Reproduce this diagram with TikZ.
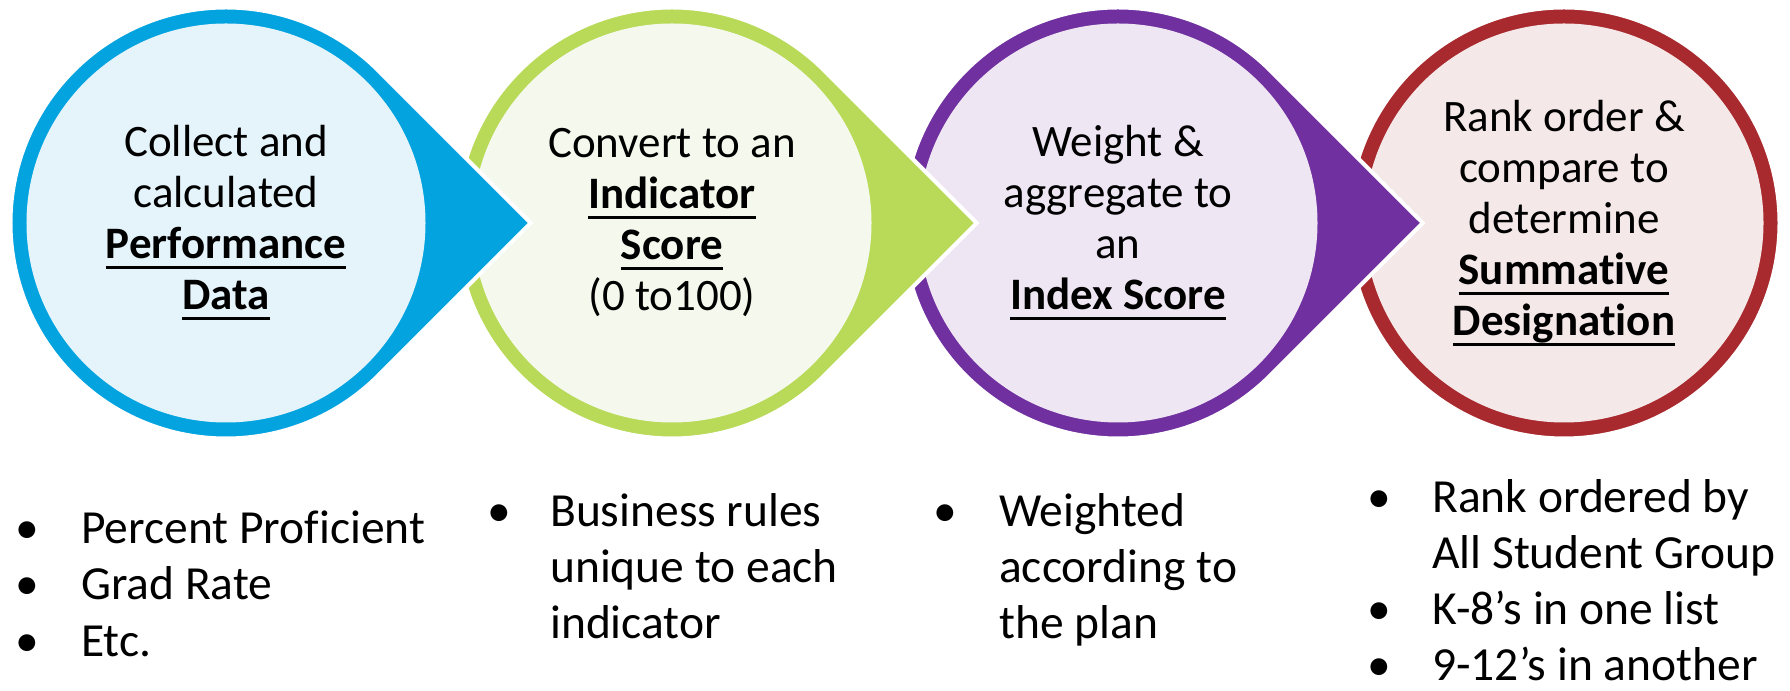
\documentclass[tikz,border=0pt]{standalone}
\usepackage{fontspec}
\setmainfont[Ligatures={NoCommon,NoContextual},RawFeature={-liga;-clig;-calt}]{Carlito}

\definecolor{collectring}{RGB}{3,163,224}
\definecolor{collectfill}{RGB}{229,244,251}
\definecolor{convertring}{RGB}{185,218,89}
\definecolor{convertfill}{RGB}{245,249,237}
\definecolor{weightring}{RGB}{112,48,160}
\definecolor{weightfill}{RGB}{239,230,244}
\definecolor{rankring}{RGB}{168,42,46}
\definecolor{rankfill}{RGB}{245,232,232}

% bold word with a rule under it
\newsavebox{\keybox}
\newcommand{\keyword}[1]{\sbox{\keybox}{\textbf{#1}}\rlap{\usebox{\keybox}}\rule[-10.5bp]{\wd\keybox}{3bp}}

\tikzset{
  tear/.style={fill=#1, draw=white, line width=4bp, line join=miter},
  stage/.style={circle, fill=#1, inner sep=0pt, minimum size=399bp, align=center,
    font=\fontsize{45bp}{51bp}\selectfont},
  listline/.style={anchor=base west, inner sep=0pt, font=\fontsize{47.5bp}{56bp}\selectfont},
  bulletmark/.style={anchor=base, inner sep=0pt, font=\fontsize{47.5bp}{56bp}\selectfont},
}

\begin{document}
\begin{tikzpicture}[x=1bp,y=1bp]
\useasboundingbox (0,0) rectangle (1790,691);

% Centres of the four stages
\coordinate (c1) at (226,468);
\coordinate (c2) at (672,468);
\coordinate (c3) at (1118,468);
\coordinate (c4) at (1564,468);

% Node: rank (last stage, no tip)
\path[tear=rankring] (c4) circle[radius=215.5bp];
\node[stage=rankfill] (rank) at (c4) {Rank order \&\\compare to\\determine\\\keyword{Summative}\\\keyword{Designation}};

% Node: weight
\path[tear=weightring] (c3) ++(45:215.5bp) arc[start angle=45, end angle=315, radius=215.5bp] -- ([xshift=304.8bp]c3) -- cycle;
\node[stage=weightfill] (weight) at (c3) {Weight \&\\aggregate to\\an\\\keyword{Index Score}};

% Node: convert
\path[tear=convertring] (c2) ++(45:215.5bp) arc[start angle=45, end angle=315, radius=215.5bp] -- ([xshift=304.8bp]c2) -- cycle;
\node[stage=convertfill] (convert) at (c2) {Convert to an\\\keyword{Indicator}\\\keyword{Score}\\(0 to100)};

% Node: collect
\path[tear=collectring] (c1) ++(45:215.5bp) arc[start angle=45, end angle=315, radius=215.5bp] -- ([xshift=304.8bp]c1) -- cycle;
\node[stage=collectfill] (collect) at (c1) {Collect and\\calculated\\\keyword{Performance}\\\keyword{Data}};

% Notes under collect
\node[bulletmark] (dotperf1) at (27,147) {•};
\node[listline] (perf1) at (81,147) {Percent Proficient};
\node[bulletmark] (dotperf2) at (27,91) {•};
\node[listline] (perf2) at (81,91) {Grad Rate};
\node[bulletmark] (dotperf3) at (27,34) {•};
\node[listline] (perf3) at (81,34) {Etc.};

% Notes under convert
\node[bulletmark] (dotrules) at (499,164) {•};
\node[listline] (rules1) at (550,164) {Business rules};
\node[listline] (rules2) at (550,108) {unique to each};
\node[listline] (rules3) at (550,52) {indicator};

% Notes under weight
\node[bulletmark] (dotplan) at (945,164) {•};
\node[listline] (plan1) at (999,164) {Weighted};
\node[listline] (plan2) at (999,108) {according to};
\node[listline] (plan3) at (999,52) {the plan};

% Notes under rank
\node[bulletmark] (dotlist1) at (1379,178) {•};
\node[listline] (list1) at (1432,178) {Rank ordered by};
\node[listline] (list2) at (1432,122) {All Student Group};
\node[bulletmark] (dotlist3) at (1379,66) {•};
\node[listline] (list3) at (1432,66) {K-8’s in one list};
\node[bulletmark] (dotlist4) at (1379,10) {•};
\node[listline] (list4) at (1432,10) {9-12’s in another};
%
\end{tikzpicture}
\end{document}
